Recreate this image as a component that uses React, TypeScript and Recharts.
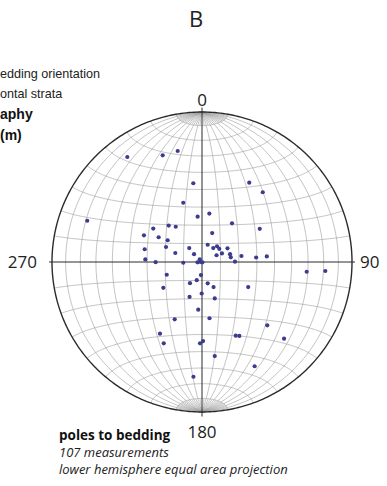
import { ComposedChart, Line, Scatter, XAxis, YAxis } from "recharts";

// pole positions on the net, in units of the net radius (east, north)
const poleEast = [
  -0.498, -0.262, -0.162, -0.058, 0.315, 0.405, -0.125, -0.029, 0.049, 0.2,
  -0.765, -0.325, -0.222, -0.175, -0.387, -0.289, -0.229, 0.068, 0.385, -0.24,
  -0.382, -0.085, 0.038, 0.075, 0.1, 0.115, 0.17, -0.178, -0.053, 0.097,
  0.133, 0.187, 0.192, 0.263, 0.361, 0.432, -0.378, -0.309, -0.125, -0.015,
  -0.03, -0.01, 0.003, 0.22, -0.007, -0.035, -0.235, -0.08, 0.038, 0.077,
  -0.258, 0.308, -0.002, -0.083, 0.085, -0.025, -0.182, 0.05, -0.28, -0.255,
  -0.057, 0.698, 0.822, 0.435, 0.225, 0.249, 0.547, 0.007, -0.013, 0.085,
  0.351,
];
const poleNorth = [
  0.7, 0.711, 0.74, 0.525, 0.529, 0.465, 0.395, 0.302, 0.323, 0.258,
  0.275, 0.223, 0.243, 0.235, 0.178, 0.165, 0.145, 0.193, 0.221, 0.1,
  0.085, 0.093, 0.115, 0.093, 0.105, 0.088, 0.091, 0.06, 0.052, 0.045,
  0.057, 0.052, 0.031, 0.04, 0.03, 0.037, 0.017, -0.001, -0.005, 0.018,
  -0.002, 0.0, -0.002, 0.002, -0.087, -0.121, -0.085, -0.141, -0.142, -0.167,
  -0.172, -0.167, -0.21, -0.233, -0.243, -0.318, -0.382, -0.375, -0.478, -0.542,
  -0.765, -0.065, -0.06, -0.422, -0.491, -0.493, -0.511, -0.527, -0.542, -0.627,
  -0.695,
];

const directionLabels = ["0", "90", "180", "270"];
const panelTitle = "B";
const leftNotes = ["edding orientation", "ontal strata"];
const leftHeads = ["aphy", "(m)"];
const captionLines = [
  "poles to bedding",
  "107 measurements",
  "lower hemisphere equal area projection",
];

const GRID_STEP = 10;
const CAP_STEP = 5;
const D2R = Math.PI / 180;

type Pt = { x: number | null; y: number | null };

// lower hemisphere Lambert equal-area, N-S polar axis
function project(lat: number, lon: number): Pt {
  const c = Math.cos(lat * D2R);
  const x = c * Math.sin(lon * D2R);
  const y = Math.sin(lat * D2R);
  const z = c * Math.cos(lon * D2R);
  const k = 1 / Math.sqrt(1 + z);
  return { x: x * k, y: y * k };
}

const BREAK: Pt = { x: null, y: null };

function buildNet(): Pt[] {
  const pts: Pt[] = [];
  for (let lon = -90 + GRID_STEP; lon < 90; lon += GRID_STEP) {
    if (lon === 0) continue;
    for (let lat = -90; lat <= 90; lat += 1) pts.push(project(lat, lon));
    pts.push(BREAK);
  }
  for (let lat = -90 + GRID_STEP; lat < 90; lat += GRID_STEP) {
    if (lat === 0) continue;
    for (let lon = -90; lon <= 90; lon += 1) pts.push(project(lat, lon));
    pts.push(BREAK);
  }
  // extra meridians inside the polar caps
  for (let lon = -90 + CAP_STEP; lon < 90; lon += CAP_STEP) {
    if (lon % GRID_STEP === 0) continue;
    for (const s of [1, -1]) {
      for (let lat = 80; lat <= 90; lat += 1) pts.push(project(s * lat, lon));
      pts.push(BREAK);
    }
  }
  return pts;
}

const netData = buildNet();
const rimData: Pt[] = Array.from({ length: 361 }, (_, a) => ({
  x: Math.sin(a * D2R),
  y: Math.cos(a * D2R),
}));
const crossData: Pt[] = [
  { x: -1.02, y: 0 },
  { x: 1.02, y: 0 },
  BREAK,
  { x: 0, y: -1.03 },
  { x: 0, y: 1.03 },
];
const poles = poleEast.map((x, i) => ({ x, y: poleNorth[i] }));

const numFont = "'Open Sans', sans-serif";
const armFont = "'Liberation Sans', Arial, sans-serif";

export default function App() {
  return (
    <div
      style={{
        position: "absolute",
        left: 0,
        top: 0,
        width: 387,
        height: 486,
        overflow: "hidden",
        background: "#fff",
      }}
    >
      <div style={{ position: "absolute", left: 22, top: 82 }}>
        <ComposedChart
          width={360}
          height={360}
          margin={{ top: 0, right: 0, bottom: 0, left: 0 }}
        >
          <XAxis type="number" dataKey="x" domain={[-1.2, 1.2]} tickCount={3} hide />
          <YAxis type="number" dataKey="y" domain={[-1.2, 1.2]} tickCount={3} hide />
          <Line
            data={netData}
            dataKey="y"
            stroke="#9a9a9a"
            strokeWidth={0.6}
            dot={false}
            activeDot={false}
            connectNulls={false}
            isAnimationActive={false}
          />
          <Line
            data={rimData}
            dataKey="y"
            stroke="#2b2b2b"
            strokeWidth={1.4}
            dot={false}
            activeDot={false}
            isAnimationActive={false}
          />
          <Line
            data={crossData}
            dataKey="y"
            stroke="#2b2b2b"
            strokeWidth={1}
            dot={false}
            activeDot={false}
            connectNulls={false}
            isAnimationActive={false}
          />
          <Scatter
            data={poles}
            isAnimationActive={false}
            shape={(p: any) => <circle cx={p.cx} cy={p.cy} r={2.1} fill="#3c3c8e" />}
          />
        </ComposedChart>
      </div>
      <svg
        width={387}
        height={486}
        style={{ position: "absolute", left: 0, top: 0, pointerEvents: "none" }}
      >
        <text x={196} y={27} textAnchor="middle" fontFamily={numFont} fontSize={22} fill="#222">
          {panelTitle}
        </text>
        <text x={202} y={106} textAnchor="middle" fontFamily={numFont} fontSize={17} fill="#222">
          {directionLabels[0]}
        </text>
        <text x={360} y={268} fontFamily={numFont} fontSize={17} fill="#222">
          {directionLabels[1]}
        </text>
        <text x={202} y={438} textAnchor="middle" fontFamily={numFont} fontSize={17} fill="#222">
          {directionLabels[2]}
        </text>
        <text x={37} y={268} textAnchor="end" fontFamily={numFont} fontSize={17} fill="#222">
          {directionLabels[3]}
        </text>
        <text x={0} y={77.5} fontFamily={armFont} fontSize={12.6} fill="#222">
          {leftNotes[0]}
        </text>
        <text x={0} y={98} fontFamily={armFont} fontSize={12.6} fill="#222">
          {leftNotes[1]}
        </text>
        <text x={0} y={119} fontFamily={armFont} fontSize={14} fontWeight="bold" fill="#111">
          {leftHeads[0]}
        </text>
        <text x={0} y={140} fontFamily={armFont} fontSize={14} fontWeight="bold" fill="#111">
          {leftHeads[1]}
        </text>
        <text x={59} y={440} fontFamily={numFont} fontSize={13.5} fontWeight="bold" fill="#111">
          {captionLines[0]}
        </text>
        <text x={59} y={457} fontFamily={numFont} fontSize={13} fontStyle="italic" fill="#222">
          {captionLines[1]}
        </text>
        <text x={59} y={474} fontFamily={numFont} fontSize={13} fontStyle="italic" fill="#222">
          {captionLines[2]}
        </text>
      </svg>
    </div>
  );
}
